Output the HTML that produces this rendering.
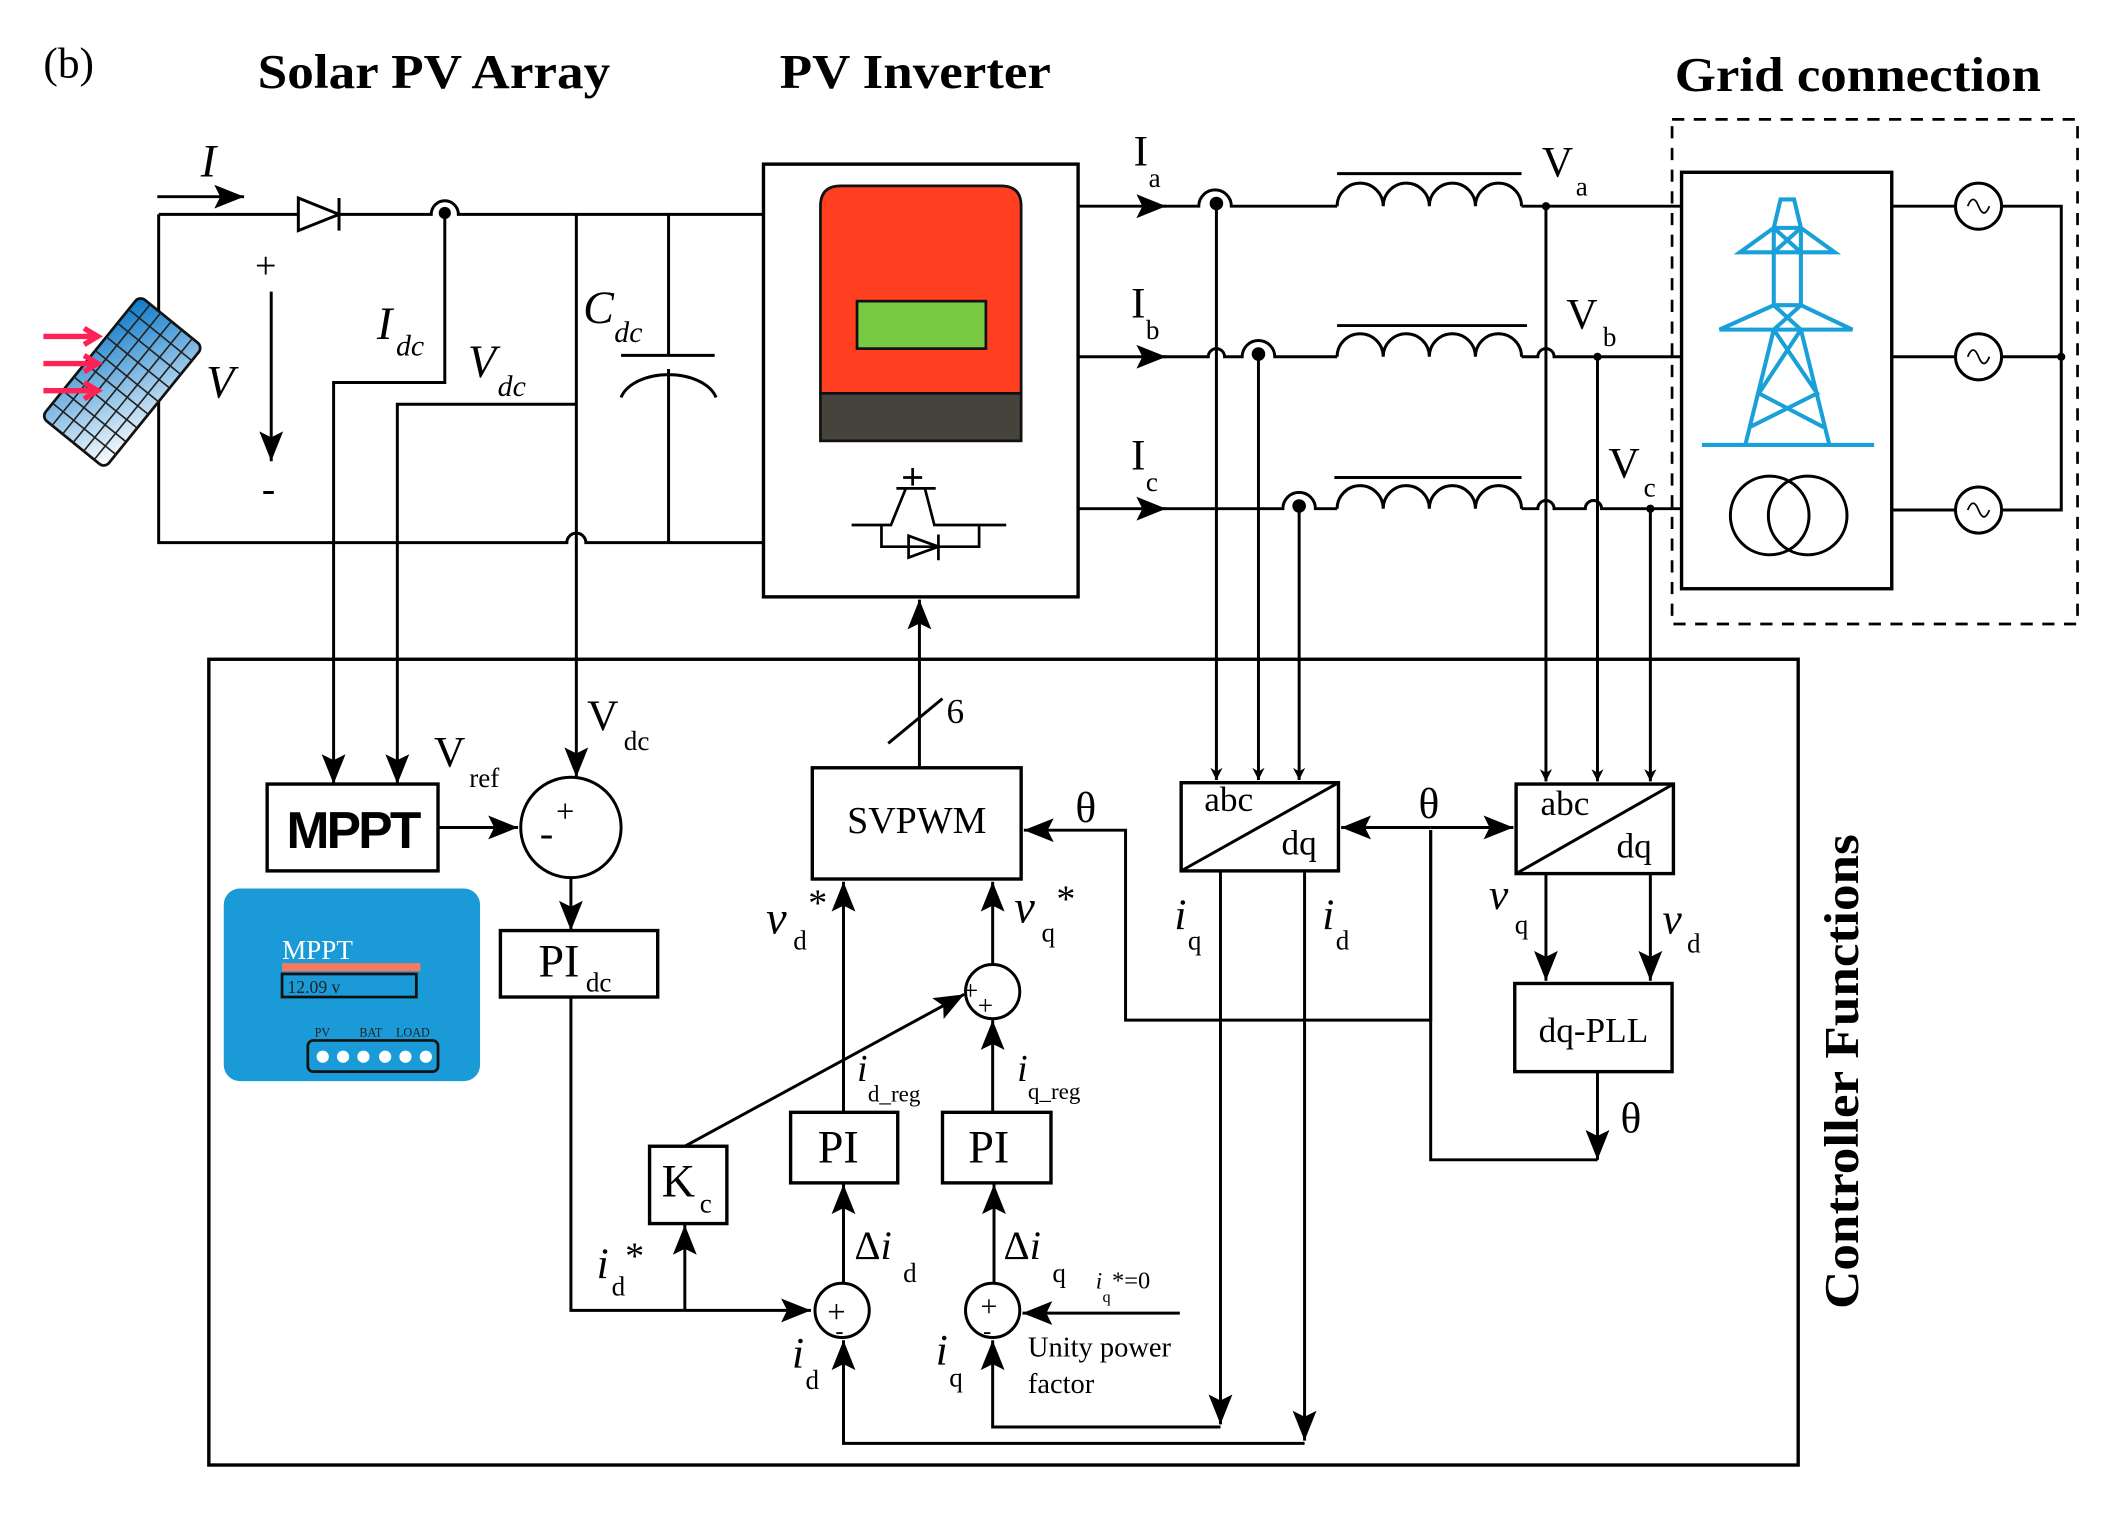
<!DOCTYPE html>
<html><head><meta charset="utf-8"><style>
html,body{margin:0;padding:0;background:#fff;}
svg{display:block;}
text{font-family:"Liberation Serif",serif;fill:#000;}
.b{font-weight:bold;}
</style></head><body>
<svg width="2125" height="1522" viewBox="0 0 1567 1122" preserveAspectRatio="none" xmlns="http://www.w3.org/2000/svg">
<defs>
<marker id="ar" viewBox="0 0 10 10" refX="10" refY="5" markerWidth="9" markerHeight="9" markerUnits="userSpaceOnUse" orient="auto"><path d="M0,0 L10,5 L0,10 L3,5 z" fill="#000"/></marker>
<marker id="ab" viewBox="0 0 10 10" refX="10" refY="5" markerWidth="22" markerHeight="22" markerUnits="userSpaceOnUse" orient="auto"><path d="M0,1 L10,5 L0,9 L2,5 z" fill="#000"/></marker>
<linearGradient id="pg" x1="0" y1="0" x2="1" y2="1"><stop offset="0" stop-color="#0a78c8"/><stop offset="1" stop-color="#ffffff"/></linearGradient>
</defs>

<text x="32" y="57" font-size="32">(b)</text>
<text x="190" y="65" font-size="36" class="b" textLength="260" lengthAdjust="spacingAndGlyphs">Solar PV Array</text>
<text x="575" y="65" font-size="36" class="b" textLength="200" lengthAdjust="spacingAndGlyphs">PV Inverter</text>
<text x="1235" y="67" font-size="36" class="b" textLength="270" lengthAdjust="spacingAndGlyphs">Grid connection</text>

<g fill="none" stroke="#000" stroke-width="2.2">
<path d="M117,158 H220 M250,158 H318 A10,10 0 0 1 338,158 H563"/>
<path d="M220,146 L250,158 L220,170 Z M250,146 V170"/>
<path d="M117,158 V400 H418 A7,7 0 0 1 432,400 H563"/>
<path d="M116,145 H180" marker-end="url(#ab)"/>
<path d="M200,215 V340" marker-end="url(#ab)"/>
<path d="M328,157 V282 H246 V578" marker-end="url(#ab)"/>
<path d="M425,158 V573" marker-end="url(#ab)"/>
<path d="M425,298 H293 V578" marker-end="url(#ab)"/>
<path d="M493,158 V262 M458,262 H527 M458,293 A36,22 0 0 1 528,293 M493,272 V400"/>
</g>
<circle cx="328" cy="157" r="4.5"/>
<text x="148" y="130" font-size="34" font-style="italic">I</text>
<text x="188" y="205" font-size="28">+</text>
<text x="193" y="370" font-size="30">-</text>
<text x="152" y="293" font-size="34" font-style="italic">V</text>
<text x="278" y="250" font-size="34" font-style="italic">I</text><text x="292" y="262" font-size="22" font-style="italic">dc</text>
<text x="345" y="278" font-size="34" font-style="italic">V</text><text x="367" y="292" font-size="22" font-style="italic">dc</text>
<text x="430" y="238" font-size="34" font-style="italic">C</text><text x="453" y="252" font-size="22" font-style="italic">dc</text>

<g transform="translate(103,218) rotate(39)">
<rect x="0" y="0" width="60" height="115" rx="5" fill="url(#pg)" stroke="#111" stroke-width="2"/>
<g stroke="#222" stroke-width="1.2">
<path d="M10,0V115M20,0V115M30,0V115M40,0V115M50,0V115"/>
<path d="M0,13H60M0,26H60M0,39H60M0,52H60M0,64H60M0,77H60M0,90H60M0,102H60"/>
</g></g>
<g stroke="#ff2255" stroke-width="4" fill="none">
<path d="M32,248H70M62,242L72,248L62,254M32,268H70M62,262L72,268L62,274M32,288H70M62,282L72,288L62,294"/>
</g>

<rect x="563" y="121" width="232" height="319" fill="#fff" stroke="#000" stroke-width="2.5"/>
<path d="M605,290 V152 Q605,137 620,137 H738 Q753,137 753,152 V290 Z" fill="#ff3f1f" stroke="#111" stroke-width="2"/>
<rect x="605" y="290" width="148" height="35" fill="#45433b" stroke="#111" stroke-width="2"/>
<rect x="632" y="222" width="95" height="35" fill="#7ac943" stroke="#111" stroke-width="2"/>
<g fill="none" stroke="#000" stroke-width="2">
<path d="M628,387 H657 L668,360 M661,360 H690 M673,345 V358 M666,352 H680 M682,360 L689,387 H742"/>
<path d="M650,387 V403 H722 V387"/>
<path d="M670,395 L692,403 L670,411 Z M692,394 V413"/>
</g>
<g fill="none" stroke="#000" stroke-width="2.2">
<path d="M678,566 V442" marker-end="url(#ab)"/>
<path d="M655,548 L695,515"/>
</g>
<text x="698" y="533" font-size="26">6</text>

<g fill="none" stroke="#000" stroke-width="2.2">
<path d="M795,152 H860" marker-end="url(#ab)"/>
<path d="M795,263 H860" marker-end="url(#ab)"/>
<path d="M795,375 H860" marker-end="url(#ab)"/>
<path d="M858,152 H884 A12,12 0 0 1 908,152 H986 M1122,152 H1240"/>
<path d="M858,263 H891 A6,6 0 0 1 903,263 H916 A12,12 0 0 1 940,263 H986 M1122,263 H1134 A6,6 0 0 1 1146,263 H1240"/>
<path d="M858,375 H946 A12,12 0 0 1 970,375 H986 M1122,375 H1134 A6,6 0 0 1 1146,375 H1169 A6,6 0 0 1 1181,375 H1240"/>
<path d="M986,152 a17,17 0 0 1 34,0 a17,17 0 0 1 34,0 a17,17 0 0 1 34,0 a17,17 0 0 1 34,0 M986,128 H1122"/>
<path d="M986,263 a17,17 0 0 1 34,0 a17,17 0 0 1 34,0 a17,17 0 0 1 34,0 a17,17 0 0 1 34,0 M986,240 H1126"/>
<path d="M986,375 a17,17 0 0 1 34,0 a17,17 0 0 1 34,0 a17,17 0 0 1 34,0 a17,17 0 0 1 34,0 M984,352 H1122"/>
<path d="M897,150 V575" marker-end="url(#ar)"/>
<path d="M928,261 V575" marker-end="url(#ar)"/>
<path d="M958,373 V575" marker-end="url(#ar)"/>
<path d="M1140,152 V576" marker-end="url(#ar)"/>
<path d="M1178,263 V576" marker-end="url(#ar)"/>
<path d="M1217,375 V576" marker-end="url(#ar)"/>
</g>
<g fill="#000">
<circle cx="897" cy="150" r="5"/><circle cx="928" cy="261" r="5"/><circle cx="958" cy="373" r="5"/>
<circle cx="1140" cy="152" r="3"/><circle cx="1178" cy="263" r="3"/><circle cx="1217" cy="375" r="3"/>
<circle cx="1520" cy="263" r="3"/>
</g>
<text x="836" y="122" font-size="32">I</text><text x="847" y="138" font-size="20">a</text>
<text x="834" y="234" font-size="32">I</text><text x="845" y="250" font-size="20">b</text>
<text x="834" y="346" font-size="32">I</text><text x="845" y="362" font-size="20">c</text>
<text x="1137" y="130" font-size="32">V</text><text x="1162" y="144" font-size="20">a</text>
<text x="1155" y="242" font-size="32">V</text><text x="1182" y="255" font-size="20">b</text>
<text x="1186" y="352" font-size="32">V</text><text x="1212" y="366" font-size="20">c</text>

<rect x="1233" y="88" width="299" height="372" fill="none" stroke="#000" stroke-width="2" stroke-dasharray="9,7"/>
<rect x="1240" y="127" width="155" height="307" fill="#fff" stroke="#000" stroke-width="2.5"/>
<g fill="none" stroke="#1aa0d8" stroke-width="3">
<path d="M1313,147 H1323 L1328,168 H1308 Z M1308,168 L1283,186 H1353 L1328,168"/>
<path d="M1308,168 V225 M1328,168 V225 M1308,168 L1328,186 M1328,168 L1308,186"/>
<path d="M1308,225 L1268,243 H1366 L1328,225 H1308 M1308,225 L1328,243 M1328,225 L1308,243"/>
<path d="M1308,243 L1287,328 M1328,243 L1349,328 M1308,243 L1340,290 L1290,315 M1328,243 L1297,290 L1345,315"/>
<path d="M1255,328 H1382"/>
</g>
<g fill="none" stroke="#000" stroke-width="2.2">
<circle cx="1305" cy="380" r="29"/><circle cx="1333" cy="380" r="29"/>
<path d="M1395,152 H1442 M1476,152 H1520 V376 H1476 M1395,263 H1442 M1476,263 H1520 M1395,376 H1442"/>
<circle cx="1459" cy="152" r="17"/><circle cx="1459" cy="263" r="17"/><circle cx="1459" cy="376" r="17"/>
<path d="M1451,152 q4,-10 8,0 t8,0 M1451,263 q4,-10 8,0 t8,0 M1451,376 q4,-10 8,0 t8,0" stroke-width="1.3"/>
</g>

<rect x="154" y="486" width="1172" height="594" fill="none" stroke="#000" stroke-width="2.5"/>
<text transform="translate(1370,790) rotate(-90)" font-size="36" class="b" text-anchor="middle" textLength="350" lengthAdjust="spacingAndGlyphs">Controller Functions</text>

<rect x="197" y="578" width="126" height="64" fill="#fff" stroke="#000" stroke-width="2.5"/>
<text x="260" y="625" font-size="38" text-anchor="middle" font-weight="bold" letter-spacing="-2" style="font-family:'Liberation Sans',sans-serif">MPPT</text>

<rect x="165" y="655" width="189" height="142" rx="12" fill="#1a9ad6"/>
<text x="208" y="707" font-size="20" style="fill:#fff">MPPT</text>
<rect x="208" y="710" width="102" height="6" fill="#f47a60"/>
<rect x="208" y="718" width="99" height="17" fill="none" stroke="#111" stroke-width="2"/>
<text x="212" y="732" font-size="13" style="fill:#222">12.09 v</text>
<text x="232" y="764" font-size="9" style="fill:#222">PV</text>
<text x="265" y="764" font-size="9" style="fill:#222">BAT</text>
<text x="292" y="764" font-size="9" style="fill:#222">LOAD</text>
<rect x="227" y="767" width="96" height="23" rx="4" fill="none" stroke="#111" stroke-width="2"/>
<g fill="#fff"><circle cx="238" cy="779" r="4.5"/><circle cx="253" cy="779" r="4.5"/><circle cx="268" cy="779" r="4.5"/><circle cx="284" cy="779" r="4.5"/><circle cx="299" cy="779" r="4.5"/><circle cx="314" cy="779" r="4.5"/></g>

<g fill="none" stroke="#000" stroke-width="2.2">
<circle cx="421" cy="610" r="37"/>
<path d="M323,610 H382" marker-end="url(#ab)"/>
<path d="M421,647 V686" marker-end="url(#ab)"/>
<rect x="369" y="686" width="116" height="49" stroke-width="2.5"/>
<path d="M421,735 V966 H598" marker-end="url(#ab)"/>
<path d="M505,966 V903" marker-end="url(#ab)"/>
<rect x="479" y="845" width="57" height="57" stroke-width="2.5"/>
<path d="M505,845 L711,733" marker-end="url(#ab)"/>
<circle cx="621" cy="966" r="20"/>
<circle cx="732" cy="966" r="20"/>
<circle cx="732" cy="731" r="20"/>
<rect x="583" y="820" width="79" height="52" stroke-width="2.5"/>
<rect x="695" y="820" width="80" height="52" stroke-width="2.5"/>
<path d="M622,946 V873" marker-end="url(#ab)"/>
<path d="M733,946 V873" marker-end="url(#ab)"/>
<path d="M622,820 V650" marker-end="url(#ab)"/>
<path d="M732,820 V752" marker-end="url(#ab)"/>
<path d="M732,711 V650" marker-end="url(#ab)"/>
<rect x="599" y="566" width="154" height="82" stroke-width="2.5"/>
<path d="M1055,612 V752 H830 V612 H755" marker-end="url(#ab)"/>
<path d="M1055,610 H989" marker-end="url(#ab)"/>
<path d="M1055,610 H1116" marker-end="url(#ab)"/>
<path d="M1055,612 V855 H1178"/>
<path d="M1178,790 V855" marker-end="url(#ab)"/>
<rect x="871" y="577" width="116" height="65" stroke-width="2.5"/>
<path d="M871,642 L987,577"/>
<rect x="1118" y="578" width="116" height="66" stroke-width="2.5"/>
<path d="M1118,644 L1234,578"/>
<path d="M1140,644 V723" marker-end="url(#ab)"/>
<path d="M1217,644 V723" marker-end="url(#ab)"/>
<rect x="1117" y="725" width="116" height="65" stroke-width="2.5"/>
<path d="M900,642 V1050" marker-end="url(#ab)"/>
<path d="M900,1052 H732 V988" marker-end="url(#ab)"/>
<path d="M962,642 V1062" marker-end="url(#ab)"/>
<path d="M962,1064 H622 V988" marker-end="url(#ab)"/>
<path d="M870,968 H754" marker-end="url(#ab)"/>
</g>

<text x="398" y="624" font-size="30">-</text>
<text x="410" y="606" font-size="24">+</text>
<text x="320" y="565" font-size="32">V</text><text x="346" y="580" font-size="20">ref</text>
<text x="433" y="538" font-size="32">V</text><text x="460" y="553" font-size="20">dc</text>
<text x="397" y="720" font-size="34">PI</text><text x="432" y="731" font-size="20">dc</text>
<text x="488" y="882" font-size="34">K</text><text x="516" y="894" font-size="20">c</text>
<text x="440" y="942" font-size="32" font-style="italic">i</text><text x="451" y="955" font-size="20">d</text><text x="461" y="935" font-size="28">*</text>
<text x="603" y="857" font-size="34">PI</text>
<text x="714" y="857" font-size="34">PI</text>
<text x="632" y="797" font-size="28" font-style="italic">i</text><text x="640" y="812" font-size="17">d_reg</text>
<text x="750" y="797" font-size="28" font-style="italic">i</text><text x="758" y="810" font-size="17">q_reg</text>
<text x="565" y="688" font-size="34" font-style="italic">ν</text><text x="585" y="700" font-size="20">d</text><text x="596" y="675" font-size="28">*</text>
<text x="748" y="680" font-size="34" font-style="italic">ν</text><text x="768" y="694" font-size="20">q</text><text x="779" y="672" font-size="28">*</text>
<text x="710" y="737" font-size="20">+</text><text x="721" y="748" font-size="20">+</text>
<text x="610" y="975" font-size="24">+</text><text x="616" y="987" font-size="18">-</text>
<text x="723" y="970" font-size="22">+</text><text x="725" y="987" font-size="18">-</text>
<text x="630" y="928" font-size="30">Δ<tspan font-style="italic">i</tspan></text><text x="666" y="945" font-size="20">d</text>
<text x="740" y="928" font-size="30">Δ<tspan font-style="italic">i</tspan></text><text x="776" y="945" font-size="20">q</text>
<text x="584" y="1008" font-size="32" font-style="italic">i</text><text x="594" y="1024" font-size="20">d</text>
<text x="690" y="1006" font-size="32" font-style="italic">i</text><text x="700" y="1022" font-size="20">q</text>
<text x="808" y="950" font-size="17" font-style="italic">i</text><text x="813" y="960" font-size="12">q</text><text x="820" y="950" font-size="18">*=0</text>
<text x="758" y="1000" font-size="21">Unity power</text>
<text x="758" y="1027" font-size="21">factor</text>
<text x="676" y="614" font-size="28" text-anchor="middle">SVPWM</text>
<text x="793" y="606" font-size="32">θ</text>
<text x="1046" y="603" font-size="32">θ</text>
<text x="1195" y="835" font-size="32">θ</text>
<text x="888" y="598" font-size="26">abc</text>
<text x="945" y="630" font-size="26">dq</text>
<text x="1136" y="601" font-size="26">abc</text>
<text x="1192" y="632" font-size="26">dq</text>
<text x="1175" y="768" font-size="26" text-anchor="middle">dq-PLL</text>
<text x="866" y="685" font-size="32" font-style="italic">i</text><text x="876" y="700" font-size="20">q</text>
<text x="975" y="685" font-size="32" font-style="italic">i</text><text x="985" y="700" font-size="20">d</text>
<text x="1098" y="670" font-size="32" font-style="italic">ν</text><text x="1117" y="688" font-size="20">q</text>
<text x="1226" y="688" font-size="32" font-style="italic">ν</text><text x="1244" y="702" font-size="20">d</text>
</svg>
</body></html>
